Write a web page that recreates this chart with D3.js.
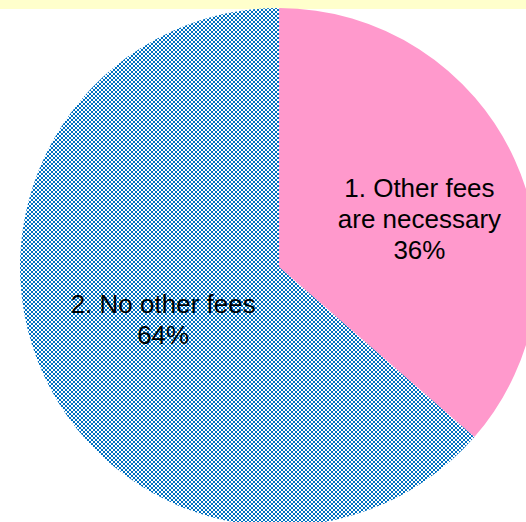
<!DOCTYPE html>
<html>
<head>
<meta charset="utf-8">
<script src="https://cdn.jsdelivr.net/npm/d3@7"></script>
<style>
html,body{margin:0;padding:0;background:#fff;}
svg{display:block;}
</style>
</head>
<body>
<svg id="chart" width="526" height="522"></svg>
<script>
const categories = ["1. Other fees|are necessary", "2. No other fees"];
const values = [36.4, 63.6];
const sliceFills = ["#FF99CC", "url(#dots)"];

const W = 526, H = 522;
const svg = d3.select("#chart");

const defs = svg.append("defs");
const pat = defs.append("pattern").attr("id", "dots")
  .attr("patternUnits", "userSpaceOnUse").attr("width", 4).attr("height", 4);
pat.append("rect").attr("width", 4).attr("height", 4).attr("fill", "#fff");
pat.append("rect").attr("x", 0).attr("y", 0).attr("width", 2).attr("height", 2).attr("fill", "#0070C0");
pat.append("rect").attr("x", 2).attr("y", 2).attr("width", 2).attr("height", 2).attr("fill", "#0070C0");

// top band
svg.append("rect").attr("x", 0).attr("y", 0).attr("width", W).attr("height", 9).attr("fill", "#FFFFCC");

const cx = 279, cy = 267, r = 259;
const g = svg.append("g").attr("transform", `translate(${cx},${cy})`);

const pie = d3.pie().sort(null).value(d => d)(values);
const arc = d3.arc().innerRadius(0).outerRadius(r);

g.selectAll("path.slice").data(pie).enter().append("path")
  .attr("class", "slice")
  .attr("d", arc)
  .attr("fill", (d, i) => sliceFills[i]);

const total = d3.sum(values);
const labelRadius = [0.6, 0.5];
const labelShift = [[-1, 16], [2, -1]];
const lineH = 31;

pie.forEach((d, i) => {
  const la = d3.arc().innerRadius(r * labelRadius[i]).outerRadius(r * labelRadius[i]);
  const [x, y] = la.centroid(d);
  const lines = categories[i].split("|").concat([Math.round(values[i] / total * 100) + "%"]);
  const t = g.append("text")
    .attr("text-anchor", "middle")
    .attr("font-family", "Liberation Sans, Arial, sans-serif")
    .attr("font-size", 26)
    .attr("fill", "#000");
  const y0 = y + labelShift[i][1] - (lines.length - 1) * lineH / 2;
  lines.forEach((s, k) => {
    t.append("tspan").attr("x", x + labelShift[i][0]).attr("y", y0 + k * lineH)
      .attr("dy", "0.35em").text(s);
  });
});
</script>
</body>
</html>
